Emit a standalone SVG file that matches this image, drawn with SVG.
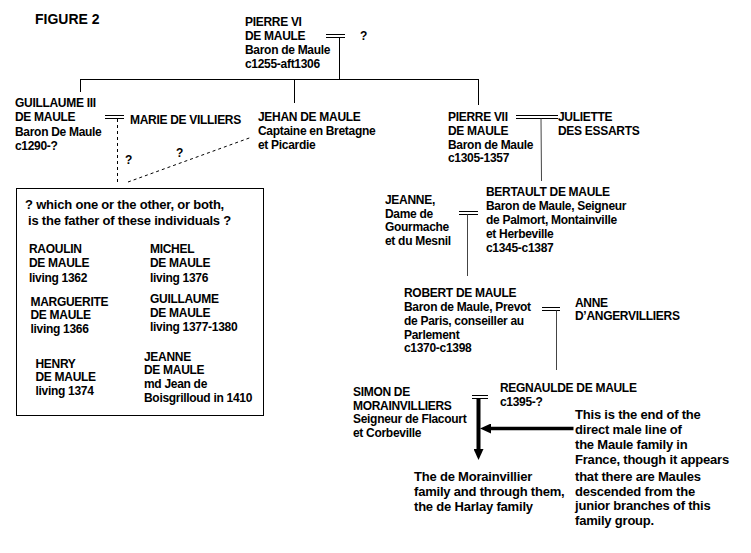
<svg xmlns="http://www.w3.org/2000/svg" width="751" height="553" viewBox="0 0 751 553">
<style>
.t{font-family:"Liberation Sans",Arial,sans-serif;font-weight:bold;font-size:12px;letter-spacing:-0.3px;fill:#000}
.b{font-size:13px;letter-spacing:-0.2px}
.f{font-size:14px;letter-spacing:0}
.ln{stroke:#000;stroke-width:1;fill:none}
.gr{stroke:#444}
.dash{stroke-dasharray:3 3}
.thick{stroke:#000;fill:none}
</style>
<defs>
<marker id="ah" markerUnits="userSpaceOnUse" markerWidth="11" markerHeight="10" viewBox="0 0 11 10" refX="0" refY="5" orient="auto">
<path d="M0,0 L11,5 L0,10 z" fill="#000"/>
</marker>
</defs>
<rect width="751" height="553" fill="#fff"/>

<g id="title"><text class="t f" x="35" y="24">FIGURE 2</text></g>

<g id="connectors">
<line class="ln" x1="326" y1="34.5" x2="345" y2="34.5"/>
<line class="ln" x1="326" y1="37.5" x2="345" y2="37.5"/>
<line class="ln" x1="339.5" y1="37.5" x2="339.5" y2="79.5"/>
<line class="ln" x1="80" y1="79.5" x2="479" y2="79.5"/>
<line class="ln" x1="80.5" y1="79.5" x2="80.5" y2="92"/>
<line class="ln" x1="294.5" y1="79.5" x2="294.5" y2="103"/>
<line class="ln" x1="478.5" y1="79.5" x2="478.5" y2="105"/>
<line class="ln" x1="105" y1="115.5" x2="124" y2="115.5"/>
<line class="ln" x1="105" y1="118.5" x2="124" y2="118.5"/>
<line class="ln dash" x1="117.5" y1="119" x2="117.5" y2="183"/>
<line class="ln dash" x1="128" y1="182" x2="252" y2="137"/>
<line class="ln" x1="516" y1="115.5" x2="558" y2="115.5"/>
<line class="ln" x1="516" y1="118.5" x2="558" y2="118.5"/>
<line class="ln gr" x1="541" y1="118.5" x2="541.5" y2="181"/>
<line class="ln" x1="459" y1="211.5" x2="478" y2="211.5"/>
<line class="ln" x1="459" y1="214.5" x2="478" y2="214.5"/>
<line class="ln gr" x1="467.5" y1="214.5" x2="467.5" y2="276"/>
<line class="ln" x1="542" y1="307.5" x2="560" y2="307.5"/>
<line class="ln" x1="542" y1="310.5" x2="560" y2="310.5"/>
<line class="ln gr" x1="556.5" y1="310.5" x2="556.5" y2="370"/>
<line class="ln" x1="472" y1="395.5" x2="488" y2="395.5"/>
<line class="ln" x1="472" y1="398.5" x2="488" y2="398.5"/>
<line class="thick" stroke-width="4" x1="478.5" y1="398" x2="478.5" y2="449" marker-end="url(#ah)"/>
<line class="thick" stroke-width="3.5" x1="573.5" y1="428.5" x2="491" y2="428.5" marker-end="url(#ah)"/>
</g>

<g id="pierre6">
<text class="t" x="245" y="26">PIERRE VI</text>
<text class="t" x="245" y="40">DE MAULE</text>
<text class="t" x="245" y="54">Baron de Maule</text>
<text class="t" x="245" y="68">c1255-aft1306</text>
</g>
<g id="q1"><text class="t" x="360" y="39.5">?</text></g>

<g id="guillaume3">
<text class="t" x="15" y="106.5">GUILLAUME III</text>
<text class="t" x="15" y="121">DE MAULE</text>
<text class="t" x="15" y="135.5">Baron De Maule</text>
<text class="t" x="15" y="150">c1290-?</text>
</g>
<g id="marie"><text class="t" x="130" y="123.5">MARIE DE VILLIERS</text></g>
<g id="jehan">
<text class="t" x="258" y="121">JEHAN DE MAULE</text>
<text class="t" x="258" y="135">Captaine en Bretagne</text>
<text class="t" x="258" y="149">et Picardie</text>
</g>
<g id="q2"><text class="t" x="125" y="164">?</text></g>
<g id="q3"><text class="t" x="176" y="157">?</text></g>

<g id="pierre7">
<text class="t" x="448" y="121">PIERRE VII</text>
<text class="t" x="448" y="135">DE MAULE</text>
<text class="t" x="448" y="148.5">Baron de Maule</text>
<text class="t" x="448" y="162">c1305-1357</text>
</g>
<g id="juliette">
<text class="t" x="558" y="121">JULIETTE</text>
<text class="t" x="558" y="135">DES ESSARTS</text>
</g>

<g id="bertault">
<text class="t" x="486" y="196">BERTAULT DE MAULE</text>
<text class="t" x="486" y="210">Baron de Maule, Seigneur</text>
<text class="t" x="486" y="224">de Palmort, Montainville</text>
<text class="t" x="486" y="238">et Herbeville</text>
<text class="t" x="486" y="252">c1345-c1387</text>
</g>
<g id="jeanne">
<text class="t" x="385" y="204">JEANNE,</text>
<text class="t" x="385" y="217.5">Dame de</text>
<text class="t" x="385" y="231">Gourmache</text>
<text class="t" x="385" y="244.5">et du Mesnil</text>
</g>

<g id="robert">
<text class="t" x="404" y="297">ROBERT DE MAULE</text>
<text class="t" x="404" y="311">Baron de Maule, Prevot</text>
<text class="t" x="404" y="325">de Paris, conseiller au</text>
<text class="t" x="404" y="338.5">Parlement</text>
<text class="t" x="404" y="352">c1370-c1398</text>
</g>
<g id="anne">
<text class="t" x="575" y="306.5">ANNE</text>
<text class="t" x="575" y="320">D’ANGERVILLIERS</text>
</g>

<g id="regnaulde">
<text class="t" x="500" y="392">REGNAULDE DE MAULE</text>
<text class="t" x="500" y="406">c1395-?</text>
</g>
<g id="simon">
<text class="t" x="353" y="396">SIMON DE</text>
<text class="t" x="353" y="409.5">MORAINVILLIERS</text>
<text class="t" x="353" y="423">Seigneur de Flacourt</text>
<text class="t" x="353" y="436.5">et Corbeville</text>
</g>

<g id="morainvillier">
<text class="t b" x="414" y="481">The de Morainvillier</text>
<text class="t b" x="414" y="496">family and through them,</text>
<text class="t b" x="414" y="510.5">the de Harlay family</text>
</g>
<g id="note">
<text class="t b" x="575" y="419">This is the end of the</text>
<text class="t b" x="575" y="434">direct male line of</text>
<text class="t b" x="575" y="449">the Maule family in</text>
<text class="t b" x="575" y="464">France, though it appears</text>
<text class="t b" x="575" y="480.5">that there are Maules</text>
<text class="t b" x="575" y="495.5">descended from the</text>
<text class="t b" x="575" y="510">junior branches of this</text>
<text class="t b" x="575" y="525">family group.</text>
</g>

<g id="box">
<rect x="16.5" y="188.5" width="247" height="227" fill="none" stroke="#000" stroke-width="1"/>
<text class="t b" x="25" y="209">? which one or the other, or both,</text>
<text class="t b" x="28" y="225">is the father of these individuals ?</text>
</g>
<g id="raoulin">
<text class="t" x="29" y="252.5">RAOULIN</text>
<text class="t" x="29" y="267">DE MAULE</text>
<text class="t" x="29" y="281.5">living 1362</text>
</g>
<g id="michel">
<text class="t" x="150" y="252.5">MICHEL</text>
<text class="t" x="150" y="267">DE MAULE</text>
<text class="t" x="150" y="281.5">living 1376</text>
</g>
<g id="marguerite">
<text class="t" x="30.5" y="305.5">MARGUERITE</text>
<text class="t" x="30.5" y="319">DE MAULE</text>
<text class="t" x="30.5" y="333">living 1366</text>
</g>
<g id="guillaume">
<text class="t" x="150" y="303">GUILLAUME</text>
<text class="t" x="150" y="316.5">DE MAULE</text>
<text class="t" x="150" y="330.5">living 1377-1380</text>
</g>
<g id="henry">
<text class="t" x="35.5" y="367.5">HENRY</text>
<text class="t" x="35.5" y="381">DE MAULE</text>
<text class="t" x="35.5" y="395">living 1374</text>
</g>
<g id="jeanne2">
<text class="t" x="144" y="360.5">JEANNE</text>
<text class="t" x="144" y="374">DE MAULE</text>
<text class="t" x="144" y="388">md Jean de</text>
<text class="t" x="144" y="402">Boisgrilloud in 1410</text>
</g>
</svg>
